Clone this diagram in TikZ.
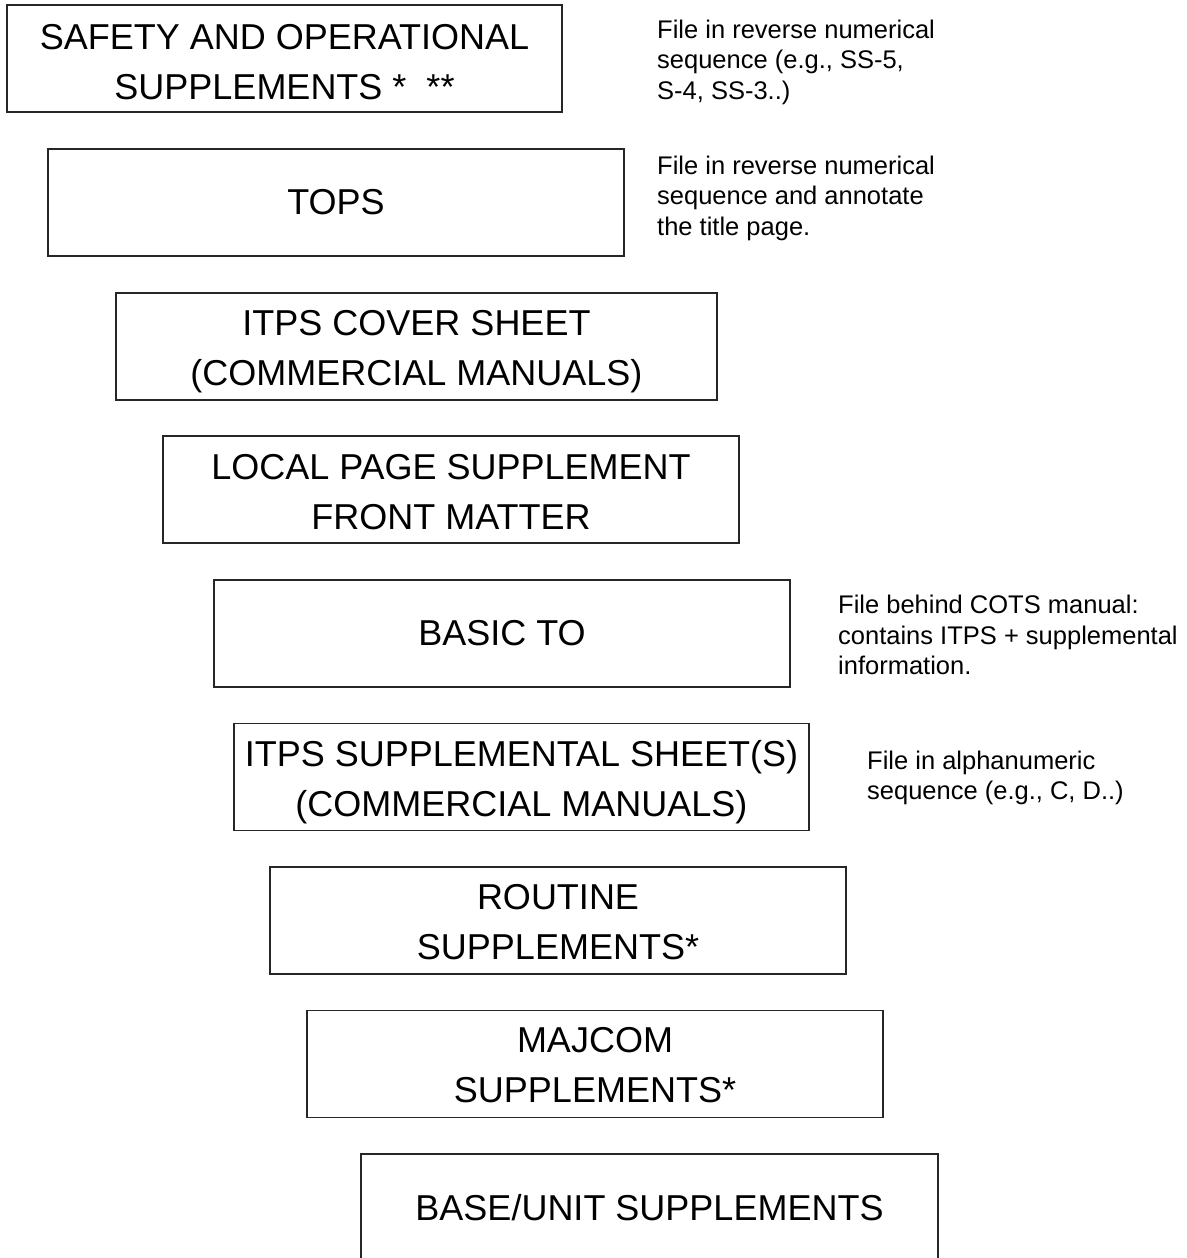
\documentclass[tikz,border=0pt]{standalone}
\usepackage{fontspec}
\setmainfont{Liberation Sans}
\begin{document}
\begin{tikzpicture}[x=1pt,y=-1pt,
  box/.style={draw=black!85, line width=1.3pt, minimum height=107pt, inner sep=0pt,
    align=center, font=\fontsize{36}{50}\selectfont},
  lbl/.style={inner sep=0pt, align=center, font=\fontsize{36}{50}\selectfont},
  note/.style={anchor=west, align=left, inner sep=0pt, font=\fontsize{25.5}{30.5}\selectfont}]
\useasboundingbox (0,0) rectangle (1186,1258);
\clip (0,0) rectangle (1186,1258);
\node[box, minimum width=555pt] (b1) at (284.5,58.5) {};
\node[lbl] (t1) at ([yshift=-4pt]b1.center) {SAFETY AND OPERATIONAL\\SUPPLEMENTS *\ \ **};
\node[box, minimum width=576pt] (b2) at (336,202.5) {TOPS};
\node[box, minimum width=601pt] (b3) at (416.5,346.5) {};
\node[lbl] (t3) at ([yshift=-5pt]b3.center) {ITPS COVER SHEET\\(COMMERCIAL MANUALS)};
\node[box, minimum width=576pt] (b4) at (451,489.5) {};
\node[lbl] (t4) at ([yshift=-3pt]b4.center) {LOCAL PAGE SUPPLEMENT\\FRONT MATTER};
\node[box, minimum width=576pt] (b5) at (502,633.5) {BASIC TO};
\node[box, minimum width=575pt] (b6) at (521.5,777) {};
\node[lbl] (t6) at ([yshift=-5pt]b6.center) {ITPS SUPPLEMENTAL SHEET(S)\\(COMMERCIAL MANUALS)};
\node[box, minimum width=576pt] (b7) at (558,920.5) {};
\node[lbl] (t7) at ([yshift=-2pt]b7.center) {ROUTINE\\SUPPLEMENTS*};
\node[box, minimum width=576pt] (b8) at (595,1064) {};
\node[lbl] (t8) at ([yshift=-1.5pt]b8.center) {MAJCOM\\SUPPLEMENTS*};
\node[box, minimum width=577pt] (b9) at (649.5,1207.5) {BASE/UNIT SUPPLEMENTS};
\node[note] (n1) at (657,62) {File in reverse numerical\\sequence (e.g., SS-5,\\S-4, SS-3..)};
\node[note] (n2) at (657,198) {File in reverse numerical\\sequence and annotate\\the title page.};
\node[note] (n3) at (838,635) {File behind COTS manual:\\contains ITPS + supplemental\\information.};
\node[note] (n4) at (867,778) {File in alphanumeric\\sequence (e.g., C, D..)};
\end{tikzpicture}
\end{document}
